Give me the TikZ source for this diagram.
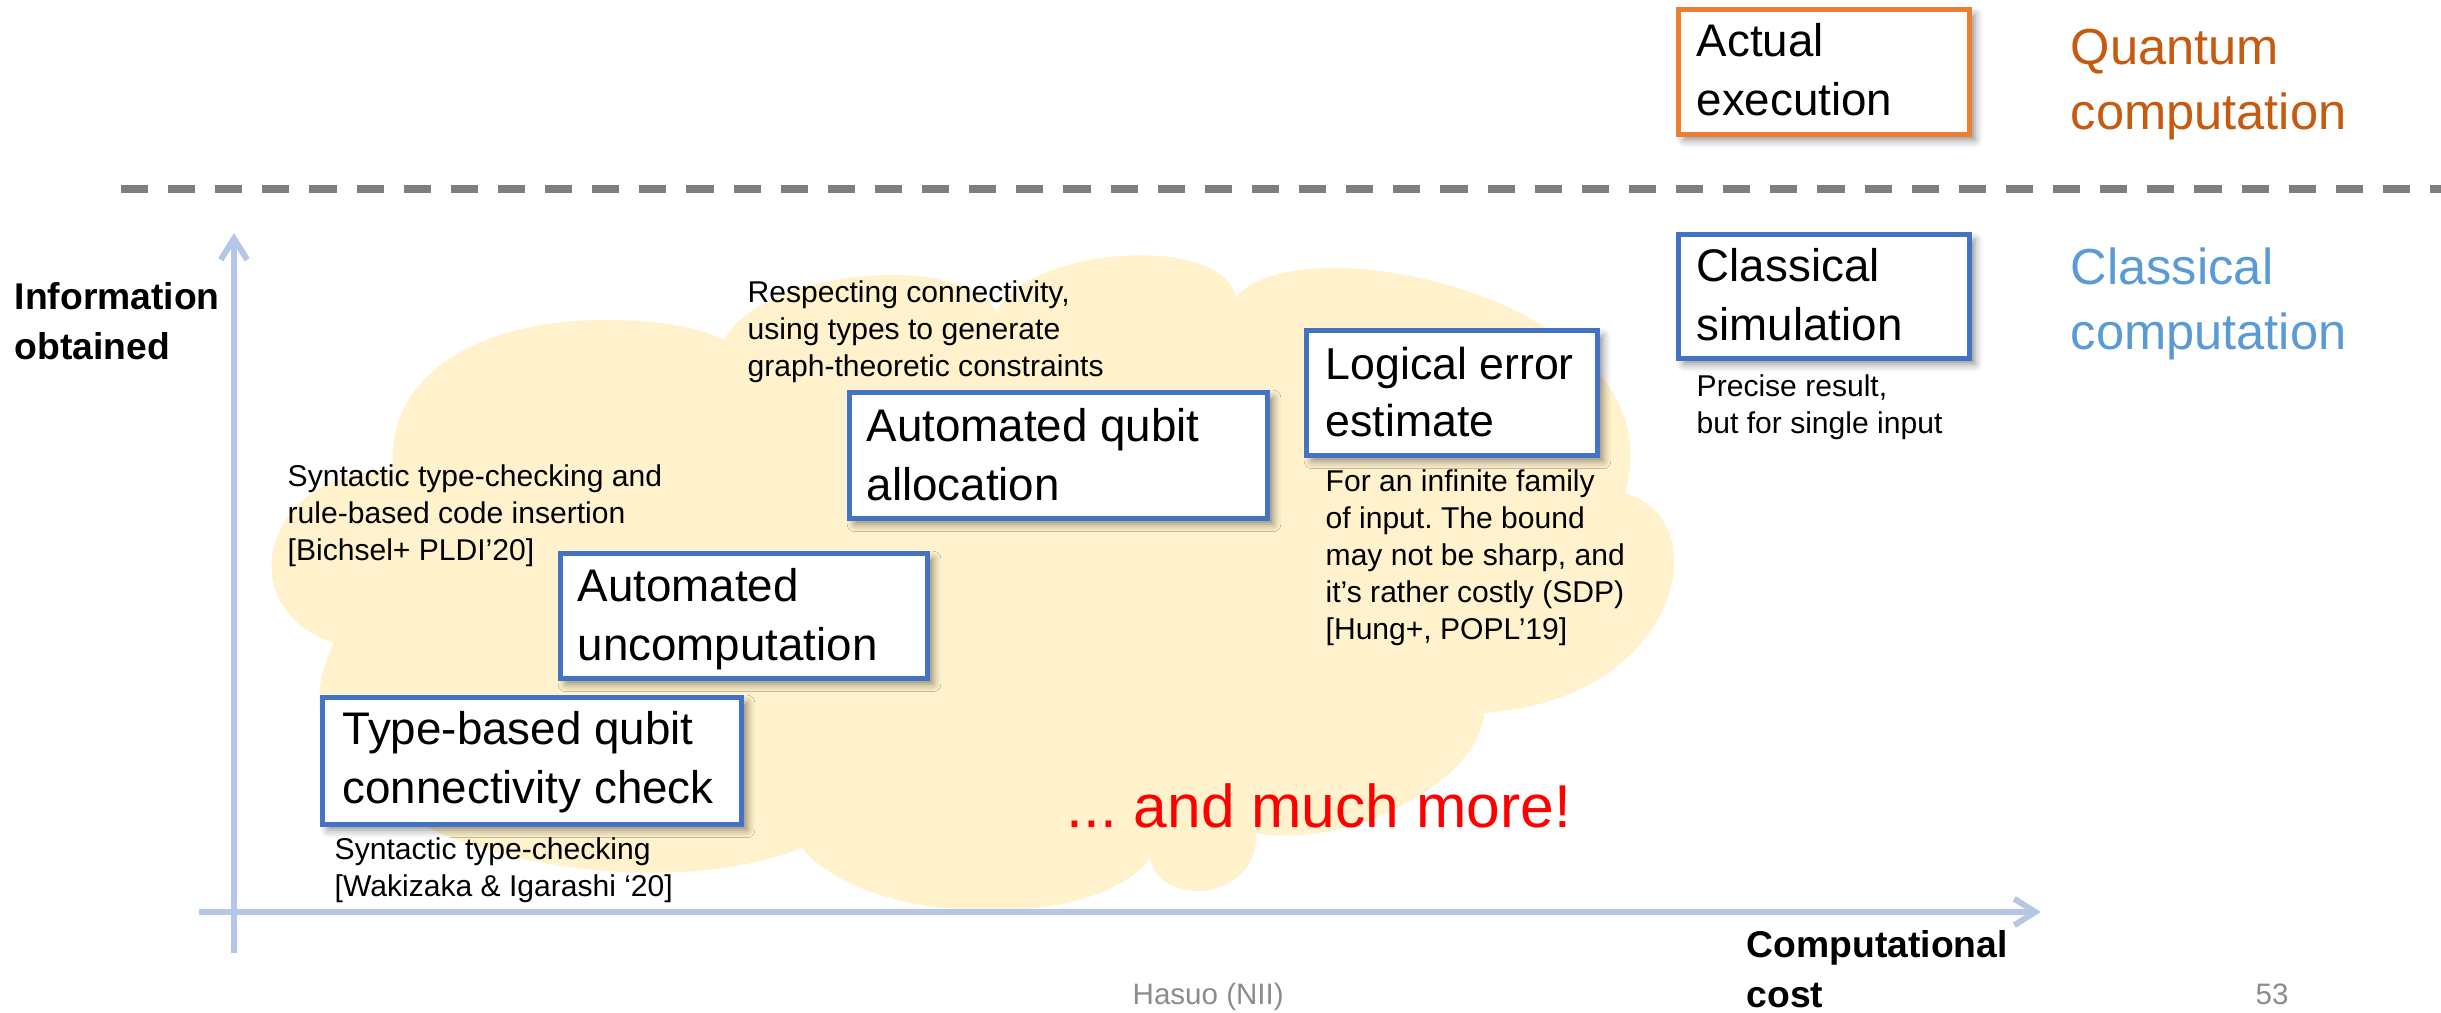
\documentclass[tikz,border=0pt]{standalone}
\usepackage{fontspec}
\setmainfont{Liberation Sans}
\usetikzlibrary{arrows.meta,shadows.blur}
\frenchspacing

\definecolor{cloudfill}{HTML}{FFF2CC}
\definecolor{boxblue}{HTML}{4472C4}
\definecolor{boxorange}{HTML}{ED7D31}
\definecolor{axisblue}{HTML}{B4C7E7}
\definecolor{qorange}{HTML}{C55A11}
\definecolor{cblue}{HTML}{5B9BD5}
\definecolor{divider}{HTML}{7F7F7F}
\definecolor{footgray}{HTML}{8C8C8C}

% left-aligned block of lines whose baseline is the first line's baseline
\newcommand\lines[1]{\begin{tabular}[t]{@{}l@{}}#1\end{tabular}}

\begin{document}
\begin{tikzpicture}[x=0.01cm,y=-0.01cm,
  frame/.style={draw=boxblue, line width=1.3pt, fill=white, anchor=north west,
    inner sep=0pt,
    blur shadow={shadow xshift=1.6pt, shadow yshift=-1.6pt,
      shadow blur radius=2.2pt, shadow opacity=45}},
  boxtext/.style={anchor=base west, inner sep=0pt,
    font=\fontsize{13}{16.6}\selectfont},
  note/.style={anchor=base west, inner sep=0pt,
    font=\fontsize{8.55}{10.5}\selectfont},
  axislabel/.style={anchor=base west, inner sep=0pt,
    font=\fontsize{10.6}{14.1}\selectfont\bfseries},
  regime/.style={anchor=base west, inner sep=0pt,
    font=\fontsize{14.4}{18.3}\selectfont},
  footer/.style={anchor=base west, inner sep=0pt, text=footgray,
    font=\fontsize{8.4}{10}\selectfont},
  axis/.style={draw=axisblue, line width=1.7pt,
    -{Straight Barb[length=6pt,width=7.5pt]}}
]
\useasboundingbox (0,0) rectangle (2441,1013);

% the cloud of static techniques
\fill[cloudfill] (393,470)
  .. controls (385,380) and (470,320) .. (607,320)
  .. controls (660,320) and (700,328) .. (724,340)
  .. controls (760,270) and (960,250) .. (997,312)
  .. controls (1020,250) and (1220,230) .. (1236,297)
  .. controls (1300,220) and (1680,300) .. (1625,493)
  .. controls (1720,520) and (1680,700) .. (1484,713)
  .. controls (1480,780) and (1350,850) .. (1256,833)
  .. controls (1260,900) and (1160,910) .. (1150,858)
  .. controls (1100,930) and (870,930) .. (802,848)
  .. controls (620,920) and (240,830) .. (334,643)
  .. controls (230,610) and (260,470) .. (393,470)
  -- cycle;

% quantum / classical divider
\coordinate (divL) at (121,189);
\coordinate (divR) at (2441,189);
\draw[divider, line width=2pt, dash pattern=on 7.7pt off 5.7pt] (divL) -- (divR);

% axes
\coordinate (yaxisBot) at (234,953);
\coordinate (yaxisTop) at (234,233);
\coordinate (xaxisL) at (199,912);
\coordinate (xaxisR) at (2041,912);
\draw[axis] (yaxisBot) -- (yaxisTop);
\draw[axis] (xaxisL) -- (xaxisR);

\node[axislabel] (ylab) at (14,310) {\lines{Information\\obtained}};
\node[axislabel] (xlab) at (1746,958) {\lines{Computational\\cost}};

% technique boxes
\node[frame, minimum width=4.19cm, minimum height=1.27cm] (tq) at (320,695) {};
\node[boxtext] (tqT) at (342,745) {\lines{Type-based qubit\\connectivity check}};

\node[frame, minimum width=3.67cm, minimum height=1.25cm] (au) at (558,551) {};
\node[boxtext] (auT) at (577,602) {\lines{Automated\\uncomputation}};

\node[frame, minimum width=4.18cm, minimum height=1.26cm] (aq) at (847,390) {};
\node[boxtext] (aqT) at (866,442) {\lines{Automated qubit\\allocation}};

\node[frame, minimum width=2.91cm, minimum height=1.25cm] (le) at (1304,328) {};
\node[boxtext, font=\fontsize{12.7}{16.2}\selectfont] (leT) at (1325,380) {\lines{Logical error\\estimate}};

\node[frame, minimum width=2.91cm, minimum height=1.24cm] (cs) at (1676,232) {};
\node[boxtext] (csT) at (1696,282) {\lines{Classical\\simulation}};

\node[frame, draw=boxorange, minimum width=2.91cm, minimum height=1.25cm] (ae) at (1676,7) {};
\node[boxtext] (aeT) at (1696,57) {\lines{Actual\\execution}};

% notes
\node[note] (nTq) at (334,860) {\lines{Syntactic type-checking\\{[Wakizaka \& Igarashi ‘20]}}};
\node[note] (nAu) at (287,487) {\lines{Syntactic type-checking and\\rule-based code insertion\\{[Bichsel+ PLDI’20]}}};
\node[note] (nAq) at (747,303) {\lines{Respecting connectivity,\\using types to generate\\graph-theoretic constraints}};
\node[note] (nLe) at (1325,492) {\lines{For an infinite family\\of input. The bound\\may not be sharp, and\\it’s rather costly (SDP)\\{[Hung+, POPL’19]}}};
\node[note] (nCs) at (1696,397) {\lines{Precise result,\\but for single input}};

\node[anchor=base west, inner sep=0pt, text=red, font=\fontsize{17.2}{20}\selectfont] (more) at (1066,828) {... and much more!};

% regimes
\node[regime, text=qorange] (quantum) at (2070,65) {\lines{Quantum\\computation}};
\node[regime, text=cblue] (classical) at (2070,285) {\lines{Classical\\computation}};

% footer
\node[footer] (author) at (1132,1005) {Hasuo (NII)};
\node[footer] (page) at (2255,1005) {53};
\end{tikzpicture}
\end{document}
